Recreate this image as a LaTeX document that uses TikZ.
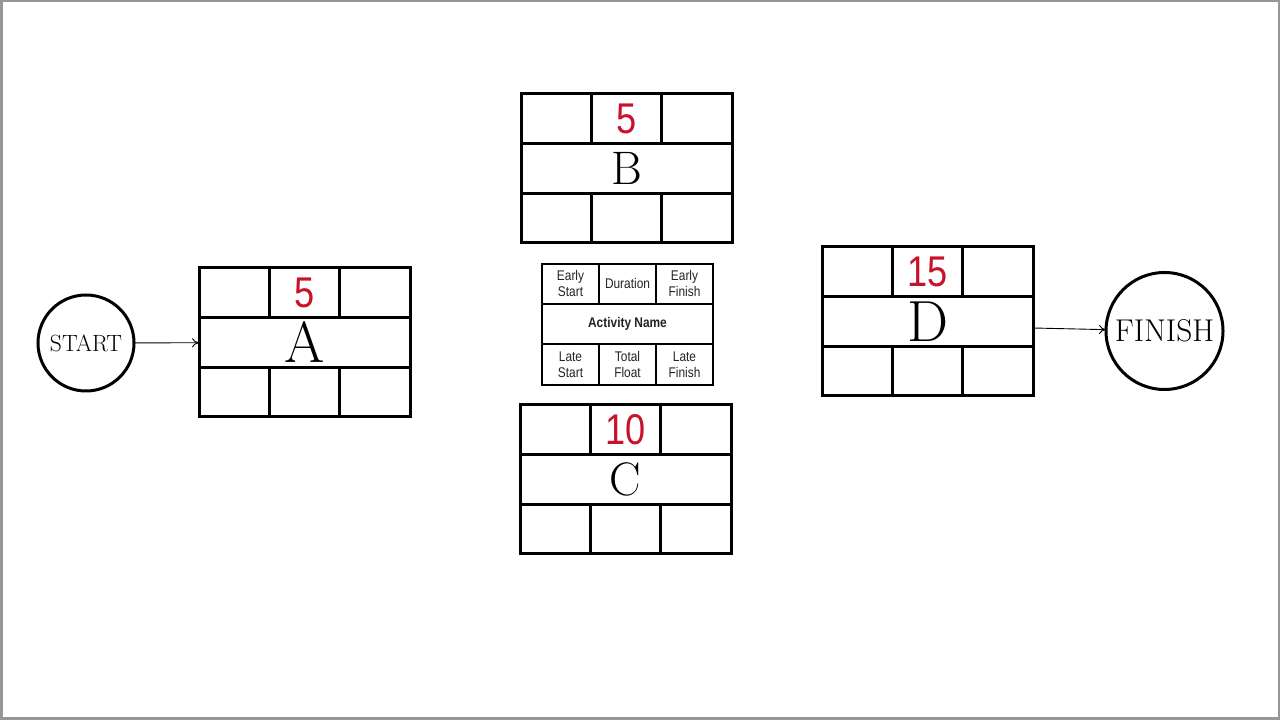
\documentclass[tikz,border=0pt]{standalone}
\usepackage{fontspec}
\usetikzlibrary{arrows.meta}
\newfontfamily\numfont[FakeStretch=0.84]{Liberation Sans}
\newfontfamily\legfont[FakeStretch=0.85]{Liberation Sans}
\definecolor{durred}{RGB}{200,18,44}
\definecolor{framegray}{RGB}{150,150,150}
\definecolor{legtext}{RGB}{35,35,35}
\tikzset{
  cell/.style={minimum width=70.333pt, minimum height=49.667pt, inner sep=0pt, outer sep=0pt},
  midrow/.style={cell, minimum width=211pt},
  boxline/.style={line width=3pt, line cap=rect},
  durtext/.style={text=durred, font=\numfont\fontsize{43}{43}\selectfont},
  lcell/.style={minimum width=57pt, minimum height=40pt, inner sep=0pt, outer sep=0pt, align=center, text=legtext, font=\legfont\fontsize{14}{16}\selectfont},
  legline/.style={line width=2pt, line cap=rect},
  endpoint/.style={circle, draw, line width=3pt, inner sep=0pt, outer sep=0pt},
  link/.style={line width=0.9pt, -{To[length=7pt,width=9pt]}},
}
\newcommand\actbox[6]{%
  \node[midrow, anchor=north west, font=\fontsize{#6}{#6}\selectfont] (#1mid) at (#2,#3-49.667) {#4};
  \node[cell, anchor=south west] (#1es) at (#1mid.north west) {};
  \node[cell, anchor=west, durtext] (#1dur) at (#1es.east) {#5};
  \node[cell, anchor=west] (#1ef) at (#1dur.east) {};
  \node[cell, anchor=north west] (#1ls) at (#1mid.south west) {};
  \node[cell, anchor=west] (#1tf) at (#1ls.east) {};
  \node[cell, anchor=west] (#1lf) at (#1tf.east) {};
  \draw[boxline] (#1es.north west) rectangle (#1lf.south east);
  \draw[boxline] (#1mid.north west) -- (#1mid.north east);
  \draw[boxline] (#1mid.south west) -- (#1mid.south east);
  \draw[boxline] (#1dur.north west) -- (#1dur.south west);
  \draw[boxline] (#1dur.north east) -- (#1dur.south east);
  \draw[boxline] (#1tf.north west) -- (#1tf.south west);
  \draw[boxline] (#1tf.north east) -- (#1tf.south east);
}
\begin{document}
\begin{tikzpicture}[x=1pt,y=1pt]
\useasboundingbox (0,0) rectangle (1280,720);
\fill[white] (0,0) rectangle (1280,720);
\draw[framegray, line width=2.5pt] (1.25,1.25) rectangle (1278.75,718.75);

\actbox{A}{199}{452}{A}{5}{58}
\actbox{B}{521}{626}{B}{5}{47}
\actbox{C}{520}{315}{C}{10}{47}
\actbox{D}{822}{473}{D}{15}{58}

% legend
\node[lcell, anchor=north west] (les) at (542,456) {Early\\Start};
\node[lcell, anchor=west] (ldur) at (les.east) {Duration};
\node[lcell, anchor=west] (lef) at (ldur.east) {Early\\Finish};
\node[lcell, anchor=north west, minimum width=171pt] (lname) at (les.south west) {\bfseries Activity Name};
\node[lcell, anchor=north west, minimum height=41pt] (lls) at (lname.south west) {Late\\Start};
\node[lcell, anchor=west, minimum height=41pt] (ltf) at (lls.east) {Total\\Float};
\node[lcell, anchor=west, minimum height=41pt] (llf) at (ltf.east) {Late\\Finish};
\draw[legline] (les.north west) rectangle (llf.south east);
\draw[legline] (lname.north west) -- (lname.north east);
\draw[legline] (lname.south west) -- (lname.south east);
\draw[legline] (ldur.north west) -- (ldur.south west);
\draw[legline] (ldur.north east) -- (ldur.south east);
\draw[legline] (ltf.north west) -- (ltf.south west);
\draw[legline] (ltf.north east) -- (ltf.south east);

% start / finish
\node[endpoint, minimum size=96pt, font=\fontsize{23.5}{23.5}\selectfont] (start) at (86,377) {START};
\node[endpoint, minimum size=117pt, font=\fontsize{31.5}{31.5}\selectfont] (fin) at (1164.5,389) {FINISH};

\draw[link] (start) -- (Amid);
\draw[link] ([yshift=-6.5pt]Dmid.east) -- (fin);
\end{tikzpicture}
\end{document}
